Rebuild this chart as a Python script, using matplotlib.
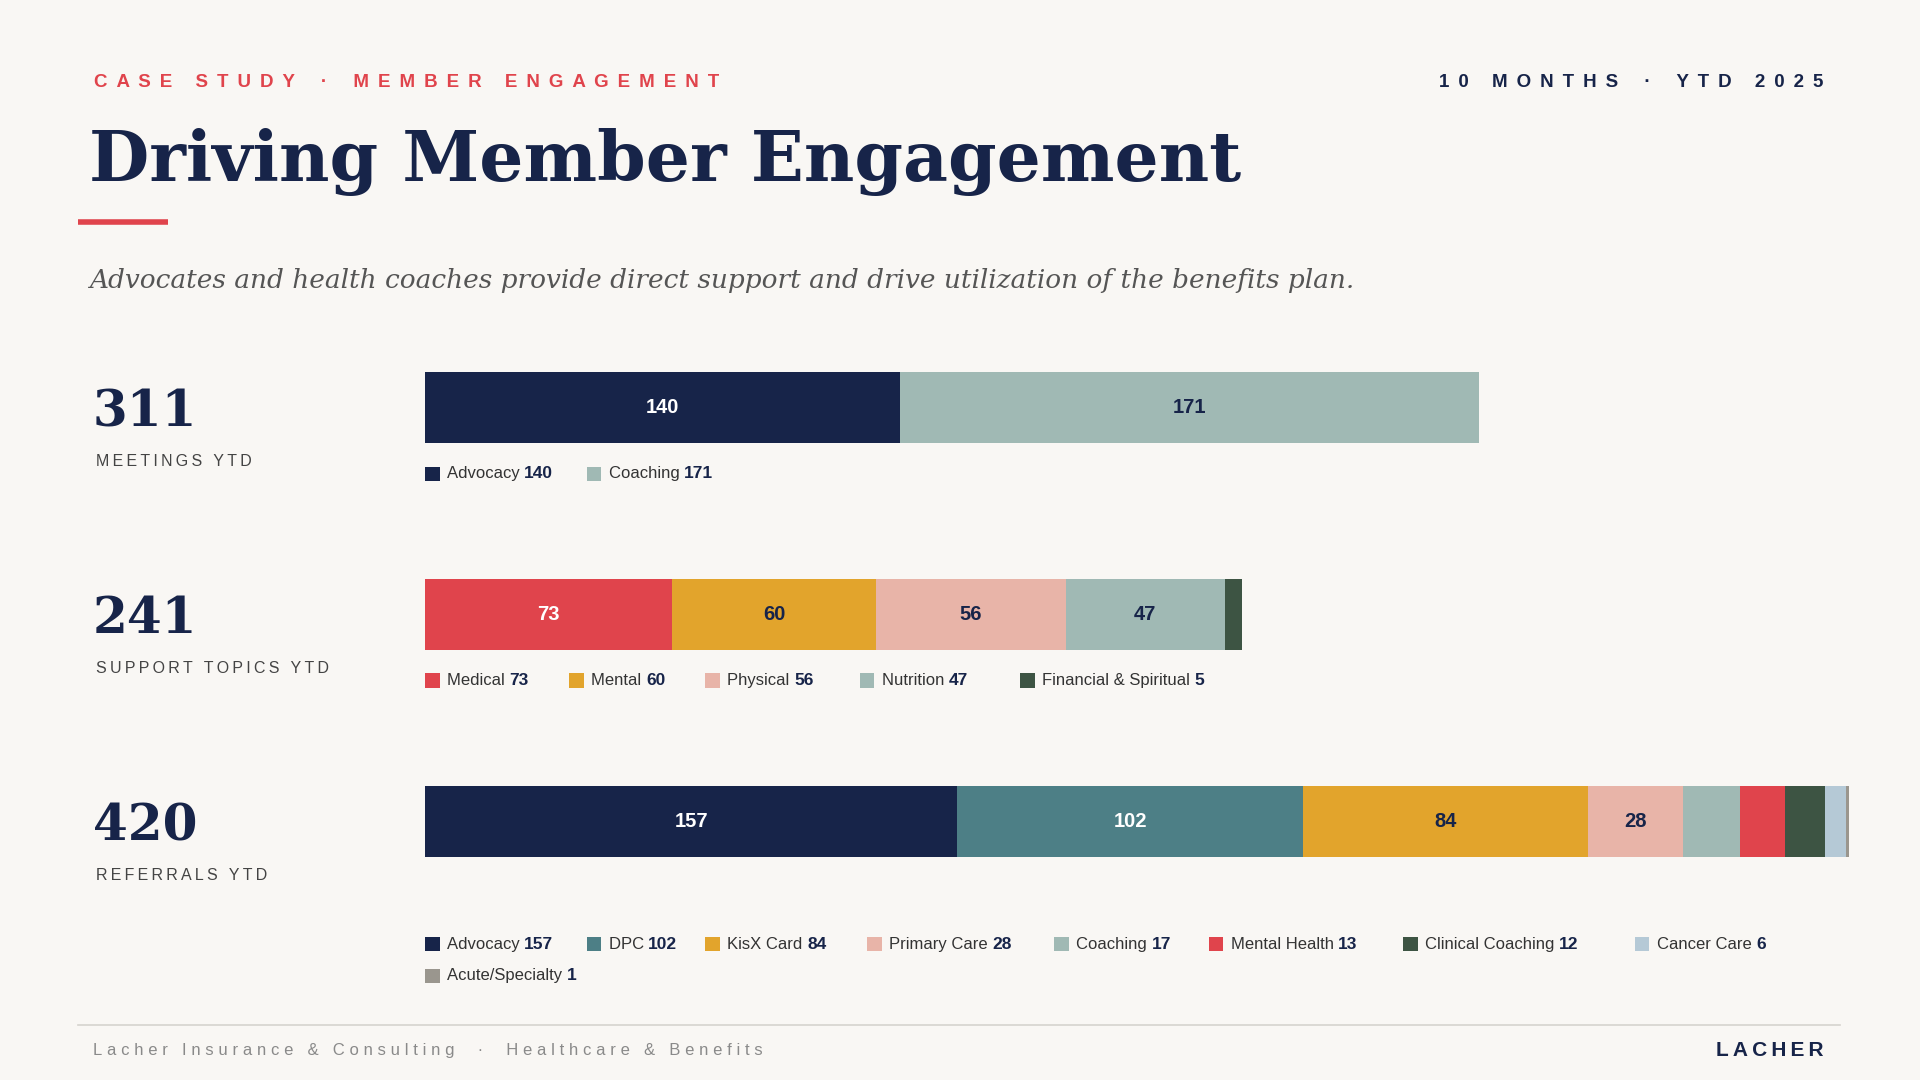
import matplotlib.pyplot as plt
from matplotlib.patches import Rectangle

# ---- data ----
meeting_labels = ["Advocacy", "Coaching"]
meeting_values = [140, 171]
topic_labels = ["Medical", "Mental", "Physical", "Nutrition", "Financial & Spiritual"]
topic_values = [73, 60, 56, 47, 5]
referral_labels = ["Advocacy", "DPC", "KisX Card", "Primary Care", "Coaching",
                   "Mental Health", "Clinical Coaching", "Cancer Care", "Acute/Specialty"]
referral_values = [157, 102, 84, 28, 17, 13, 12, 6, 1]

NAVY = "#172449"
SAGE = "#a0b9b4"
RED = "#e0444c"
GOLD = "#e2a42c"
PINK = "#e8b4a8"
GREEN = "#3d5443"
TEAL = "#4d7f86"
LBLUE = "#b5c9d6"
GRAY = "#9a968e"
BG = "#f9f7f4"

meeting_colors = [NAVY, SAGE]
topic_colors = [RED, GOLD, PINK, SAGE, GREEN]
referral_colors = [NAVY, TEAL, GOLD, PINK, SAGE, RED, GREEN, LBLUE, GRAY]

SANS = "Liberation Sans"
SERIF = "DejaVu Serif"

W, H = 1568, 882
fig = plt.figure(figsize=(19.2, 10.8), dpi=100, facecolor=BG)
ov = fig.add_axes([0, 0, 1, 1])
ov.set_xlim(0, W)
ov.set_ylim(H, 0)
ov.axis("off")

# bar axes, shared scale
x0, x1 = 347, 1510
bx = fig.add_axes([x0 / W, 0, (x1 - x0) / W, 1])
bx.set_xlim(0, sum(referral_values))
bx.set_ylim(H, 0)
bx.axis("off")
bx.patch.set_alpha(0)

def spaced(s, sep=" "):
    return sep.join(s)

# header
HS = " \u2009"
ov.text(77, 67, spaced("CASE STUDY", HS) + "     \u00b7     " + spaced("MEMBER ENGAGEMENT", HS),
        color=RED, fontsize=13.5, fontweight="bold", family=SANS, va="center")
ov.text(1489, 67, spaced("10 MONTHS", HS) + "     \u00b7     " + spaced("YTD 2025", HS),
        color=NAVY, fontsize=13.5, fontweight="bold", family=SANS, va="center", ha="right")
ov.text(73, 132, "Driving Member Engagement", color=NAVY, fontsize=50,
        fontweight="bold", family=SERIF, va="center")
ov.plot([64, 137], [181, 181], color=RED, lw=4, solid_capstyle="butt")
ov.text(73, 229, "Advocates and health coaches provide direct support and drive utilization of the benefits plan.",
        color="#555555", fontsize=19, style="italic", family=SERIF, va="center")

rows = [
    (333, "311", "MEETINGS YTD", meeting_labels, meeting_values, meeting_colors,
     [[347, 479]], [387]),
    (502, "241", "SUPPORT TOPICS YTD", topic_labels, topic_values, topic_colors,
     [[347, 465, 576, 702, 833]], [556]),
    (671, "420", "REFERRALS YTD", referral_labels, referral_values, referral_colors,
     [[347, 479, 576, 708, 861, 987, 1146, 1335], [347]], [771, 797]),
]

for yc, big, name, labels, values, colors, lxs, lys in rows:
    ov.text(76, yc + 4, big, color=NAVY, fontsize=36, fontweight="bold",
            family=SERIF, va="center")
    ov.text(78, yc + 44, spaced(name, "\u2009"), color="#444444", fontsize=11.5,
            family=SANS, va="center")
    left = 0
    for v, c in zip(values, colors):
        bx.barh(yc, v, left=left, height=58, color=c, lw=0)
        if v >= 20:
            tc = "white" if c in (NAVY, RED, TEAL) else NAVY
            bx.text(left + v / 2, yc, str(v), color=tc, fontsize=14.5,
                    fontweight="bold", family=SANS, ha="center", va="center")
        left += v
    k = 0
    for xs, ly in zip(lxs, lys):
        for lx in xs:
            ov.add_patch(Rectangle((lx, ly - 6), 12, 12, color=colors[k], lw=0))
            t = ov.text(lx + 18, ly, labels[k] + " ", color="#333333", fontsize=12,
                        family=SANS, va="center")
            ov.annotate(str(values[k]), xy=(1, 0.5), xycoords=t, va="center",
                        color=NAVY, fontsize=12.5, fontweight="bold", family=SANS)
            k += 1

# footer
ov.plot([64, 1503], [837, 837], color="#d6d3ce", lw=1.2)
ov.text(76, 858, spaced("Lacher Insurance & Consulting", "\u2009\u200a") + "     \u00b7     "
        + spaced("Healthcare & Benefits", "\u2009\u200a"),
        color="#8a8a8a", fontsize=12, family=SANS, va="center")
ov.text(1489, 858, spaced("LACHER", "\u2009"), color=NAVY, fontsize=15, fontweight="bold",
        family=SANS, va="center", ha="right")

fig.savefig("out.png", dpi=100, facecolor=BG)
